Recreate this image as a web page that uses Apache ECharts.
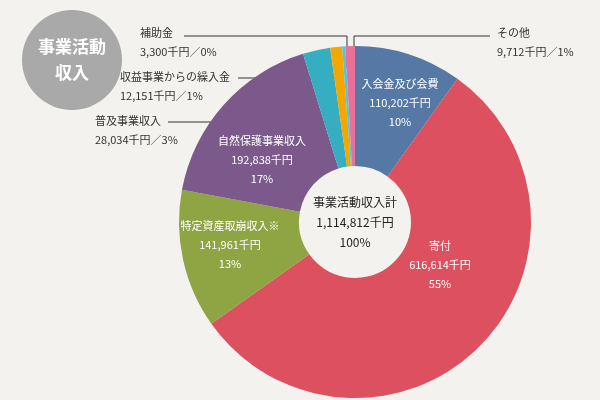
<!DOCTYPE html>
<html>
<head>
<meta charset="utf-8">
<script src="https://cdn.jsdelivr.net/npm/echarts@6/dist/echarts.min.js"></script>
<style>html,body{margin:0;background:#f4f2ee}#c{width:600px;height:400px}</style>
</head>
<body>
<div id="c"></div>
<script>
const names = ['入会金及び会費', '寄付', '特定資産取崩収入※', '自然保護事業収入', '普及事業収入', '収益事業からの繰入金', '補助金', 'その他'];
const values = [110202, 616614, 141961, 192838, 28034, 12151, 3300, 9712];
const percents = [10, 55, 13, 17, 3, 1, 0, 1];
const colors = ['#5678a5', '#dc5060', '#8fa443', '#7b5a8b', '#36aec1', '#f4a700', '#54c4e2', '#ea7099'];

const fmt = n => n.toLocaleString('en-US');
const font = '"Noto Sans CJK JP", sans-serif';

// label positions: [x, y, align, outside?]
const labelPos = [
  [400, 103, 'center', false],
  [440, 265, 'center', false],
  [230, 245, 'center', false],
  [262, 160, 'center', false],
  [95, 130, 'left', true],
  [120, 86, 'left', true],
  [140, 42, 'left', true],
  [497, 42, 'left', true]
];
// callout line: [textEnd x, line y, bend x, dot y]
const calloutLine = {
  4: [168, 122, 337, 135],
  5: [238, 78, 343, 86],
  6: [184, 36, 347, 68],
  7: [490, 36, 354, 82]
};

const chart = echarts.init(document.getElementById('c'));
chart.setOption({
  backgroundColor: '#f4f2ee',
  textStyle: { fontFamily: font },
  graphic: [
    { type: 'circle', shape: { cx: 72, cy: 60, r: 50 }, style: { fill: '#a9a9a9' } },
    { type: 'text', x: 72, y: 60, style: { text: '事業活動\n収入', fill: '#fff', font: 'bold 17px ' + font, align: 'center', verticalAlign: 'middle', lineHeight: 26 } },
    { type: 'text', x: 355, y: 222, z: 10, style: { text: '事業活動収入計\n1,114,812千円\n100%', fill: '#222', font: '12px ' + font, align: 'center', verticalAlign: 'middle', lineHeight: 20 } }
  ],
  series: [{
    type: 'pie',
    center: [355, 222],
    radius: [56, 176],
    startAngle: 90,
    clockwise: true,
    color: colors,
    data: names.map((n, i) => ({ name: n, value: values[i] })),
    itemStyle: { borderColor: '#fff', borderWidth: 0 },
    label: {
      show: true,
      fontFamily: font,
      fontSize: 11,
      lineHeight: 19,
      formatter: p => {
        const i = p.dataIndex;
        if (labelPos[i][3]) return p.name + '\n' + fmt(values[i]) + '千円／' + percents[i] + '%';
        return p.name + '\n' + fmt(values[i]) + '千円\n' + percents[i] + '%';
      },
      color: '#fff'
    },
    labelLine: { show: true, lineStyle: { color: '#333', width: 1 }, length: 10, length2: 10 },
    labelLayout: p => {
      const i = p.dataIndex;
      const lp = labelPos[i];
      const out = { x: lp[0], y: lp[1], align: lp[2], verticalAlign: 'middle' };
      const cl = calloutLine[i];
      if (cl) {
        const sx = i === 7 ? cl[0] : cl[0];
        out.labelLinePoints = [[cl[2], cl[3]], [cl[2], cl[1]], [sx, cl[1]]];
      }
      return out;
    },
    emphasis: { disabled: true },
    animation: false
  }]
});
chart.setOption({
  series: [{
    data: names.map((n, i) => ({
      name: n, value: values[i],
      label: labelPos[i][3] ? { color: '#333' } : {},
      labelLine: { show: !!labelPos[i][3] }
    }))
  }]
});
</script>
</body>
</html>
